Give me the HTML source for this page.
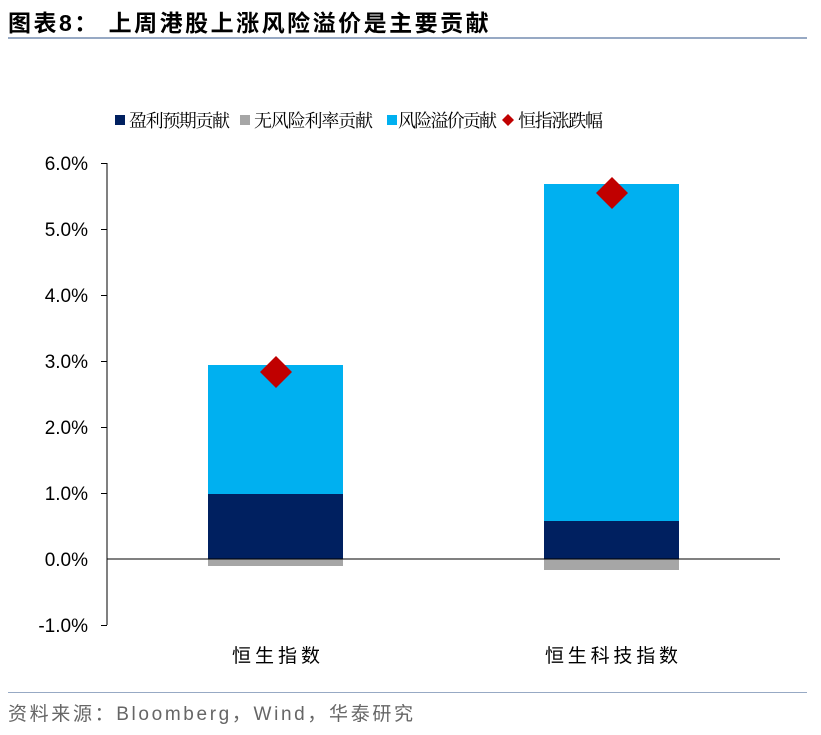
<!DOCTYPE html>
<html><head><meta charset="utf-8"><style>
body{margin:0;background:#fff;width:821px;height:735px;overflow:hidden;position:relative;font-family:"Liberation Sans","Noto Sans CJK SC",sans-serif}
.a{position:absolute;white-space:nowrap}
</style></head><body>
<div class="a" style="left:8px;top:4px;font-size:23px;font-weight:bold;color:#000;letter-spacing:2.5px">图表8：&nbsp;上周港股上涨风险溢价是主要贡献</div>
<div class="a" style="left:8px;top:37px;width:799px;height:2px;background:#97a9c4"></div>
<svg class="a" style="left:0;top:0" width="821" height="735">
<g font-family="'Noto Serif CJK SC',serif" font-size="18" fill="#000">
<rect x="115" y="115" width="10" height="10" fill="#002060"/><text x="129" y="127" textLength="101">盈利预期贡献</text>
<rect x="240" y="115" width="10" height="10" fill="#a6a6a6"/><text x="254" y="127" textLength="119">无风险利率贡献</text>
<rect x="387" y="115" width="10" height="10" fill="#00b0f0"/><text x="398" y="127" textLength="99">风险溢价贡献</text>
<polygon points="508,114 514,120 508,126 502,120" fill="#c00000"/><text x="518" y="127" textLength="85">恒指涨跌幅</text>
</g>
<line x1="107" y1="163" x2="107" y2="625" stroke="#000" stroke-width="1"/>
<g stroke="#000" stroke-width="1">
<line x1="101" y1="163.5" x2="107" y2="163.5"/><line x1="101" y1="229.5" x2="107" y2="229.5"/><line x1="101" y1="295.5" x2="107" y2="295.5"/><line x1="101" y1="361.5" x2="107" y2="361.5"/><line x1="101" y1="427.5" x2="107" y2="427.5"/><line x1="101" y1="493.5" x2="107" y2="493.5"/><line x1="101" y1="625.5" x2="107" y2="625.5"/>
</g>
<g font-size="19" fill="#000" text-anchor="end" font-family="'Liberation Sans',sans-serif">
<text x="88" y="170">6.0%</text><text x="88" y="236">5.0%</text><text x="88" y="302">4.0%</text><text x="88" y="368">3.0%</text><text x="88" y="434">2.0%</text><text x="88" y="500">1.0%</text><text x="88" y="566">0.0%</text><text x="88" y="632">-1.0%</text>
</g>
<rect x="208" y="365" width="135" height="129" fill="#00b0f0"/>
<rect x="208" y="494" width="135" height="65" fill="#002060"/>
<rect x="208" y="559" width="135" height="7" fill="#a6a6a6"/>
<rect x="544" y="184" width="135" height="337" fill="#00b0f0"/>
<rect x="544" y="521" width="135" height="38" fill="#002060"/>
<rect x="544" y="559" width="135" height="11" fill="#a6a6a6"/>
<line x1="107" y1="559" x2="780" y2="559" stroke="#000" stroke-width="1"/>
<polygon points="276,356 292,372 276,388 260,372" fill="#c00000"/>
<polygon points="612,177 628,193 612,209 596,193" fill="#c00000"/>
<g font-family="'Noto Sans CJK SC',sans-serif" font-size="19" fill="#000">
<text x="232" y="662" textLength="88">恒生指数</text><text x="545" y="662" textLength="133">恒生科技指数</text>
</g>
<text x="8" y="720" font-size="19" fill="#666" textLength="405" font-family="'Liberation Sans','Noto Sans CJK SC',sans-serif">资料来源：Bloomberg，Wind，华泰研究</text>
</svg>
<div class="a" style="left:8px;top:692px;width:799px;height:1px;background:#97a9c4"></div>
</body></html>
